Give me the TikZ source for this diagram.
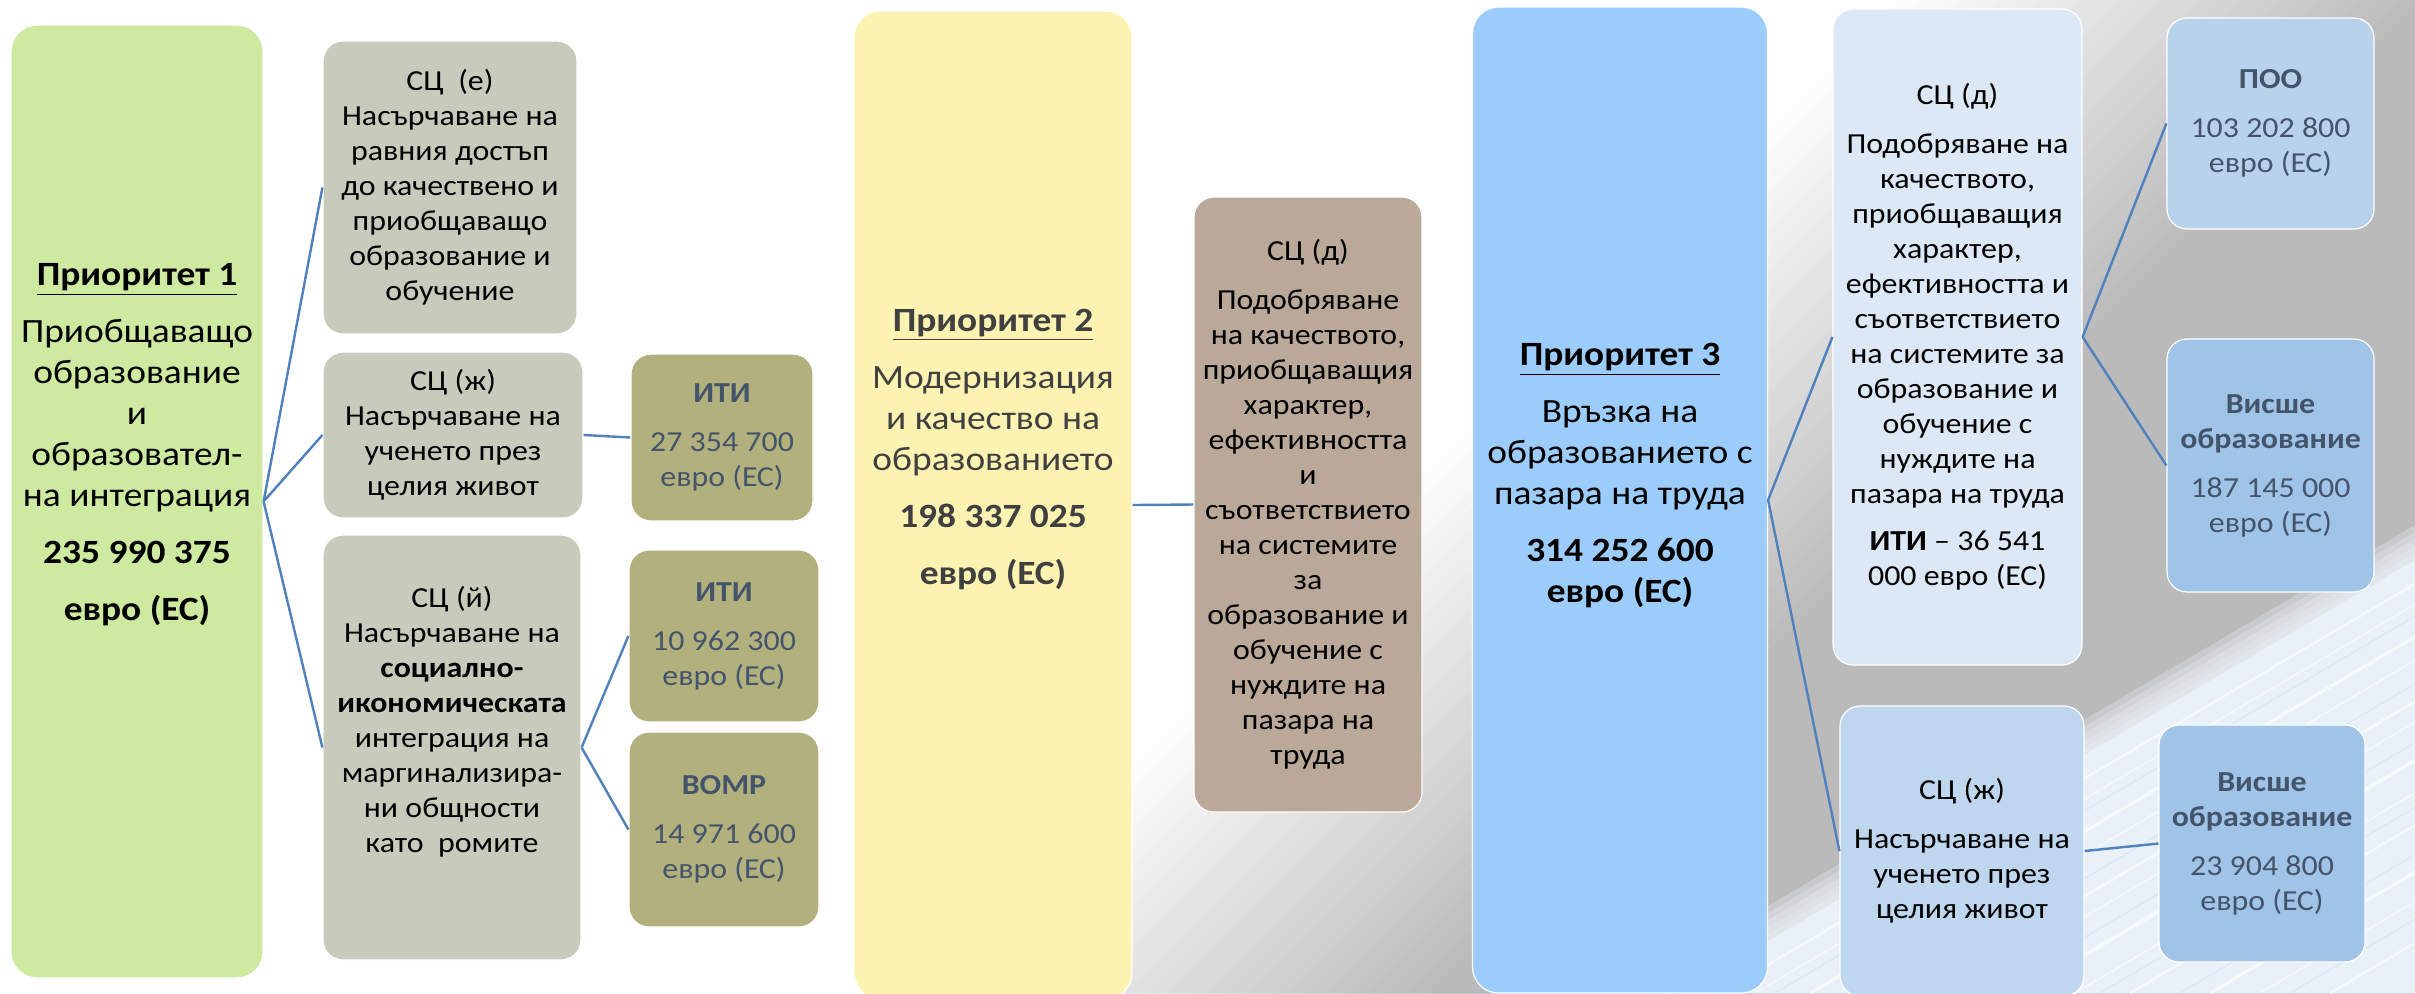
\documentclass[tikz,border=0pt]{standalone}
\usepackage{fontspec}
\setmainfont{Carlito}[FakeStretch=1.1]
\usepackage{tikz}
\usetikzlibrary{calc}

\definecolor{prgreen}{RGB}{206,233,160}
\definecolor{pryellow}{RGB}{252,242,178}
\definecolor{prblue}{RGB}{156,204,250}
\definecolor{scgray}{RGB}{200,203,187}
\definecolor{scbrown}{RGB}{186,168,152}
\definecolor{scpale}{RGB}{220,232,245}
\definecolor{scsky}{RGB}{190,215,238}
\definecolor{olive}{RGB}{178,177,126}
\definecolor{fundblue}{RGB}{184,210,236}
\definecolor{fundmid}{RGB}{160,195,232}
\definecolor{slate}{RGB}{68,84,106}
\definecolor{linkblue}{RGB}{79,129,189}
\definecolor{streak}{RGB}{234,240,247}
\definecolor{streakdark}{RGB}{208,220,235}

\def\prfont{\fontsize{17}{20.5}\selectfont}
\def\bxfont{\fontsize{14.5}{17.5}\selectfont}

\tikzset{
	box/.style={rectangle, rounded corners=10pt, inner sep=0pt, draw=white, line width=0.6pt, align=center, font=\bxfont},
	prbox/.style={box, rounded corners=13pt},
	prtext/.style={align=center, inner sep=0pt, font=\prfont},
	fund/.style={box, text=slate},
	link/.style={draw=linkblue, line width=1.2pt}
}

\begin{document}
\begin{tikzpicture}[x=0.5pt, y=-0.5pt]
		%%%%% START %%%%%
		\useasboundingbox (0, 0) rectangle (2415, 993);
		\fill[white] (0, 0) rectangle (2415, 993);
		
		% background swoosh
		\begin{scope}
			\clip (0, 0) rectangle (2415, 993);
			\foreach \s in {1900, 1920, ..., 2420} {
				\pgfmathsetmacro\g{(\s - 1900)/20 + 1}
				\fill[black!\g] (\s - 993, 993) -- (4000, 993) -- (4000, 0) -- (\s, 0) -- cycle;
			}
			\foreach \k in {0, 1, ..., 5}
				\fill[streak, opacity=0.3] (1680 - 12*\k, 993) -- (2415, 560 - 7*\k) -- (2415, 993) -- cycle;
			\fill[streak] (1680, 993) -- (2415, 560) -- (2415, 993) -- cycle;
			\foreach \d/\w in {40/1.2, 75/0.6, 130/1.6, 170/0.8, 240/1.4, 275/0.6, 340/1.8, 395/0.8, 450/1.2, 530/1.6, 580/0.6, 650/1.2}
				\draw[white, line width=\w pt, opacity=0.6] (1680 + \d, 993) -- ++(900, -530);
			\foreach \d in {95, 210, 310, 420, 500, 610}
				\draw[streakdark, line width=0.6pt, opacity=0.45] (1680 + \d, 993) -- ++(900, -530);
		\end{scope}
		
		% priority 1
		\node[prbox, fill=prgreen, minimum width=126pt, minimum height=476.5pt] (p1) at (137, 501.5) {};
		\node[prtext] (p1t) at (137, 445) {\underline{\textbf{Приоритет 1}}\\[8pt]Приобщаващо\\образование\\и\\образовател-\\на интеграция\\[8pt]\textbf{235 990 375}\\[8pt]\textbf{евро (ЕС)}};
		
		\node[box, fill=scgray, minimum width=127pt, minimum height=146.5pt] (sce) at (450, 187.5) {СЦ\ \ (е)\\Насърчаване на\\равния достъп\\до качествено и\\приобщаващо\\образование и\\обучение};
		\node[box, fill=scgray, minimum width=130pt, minimum height=83pt] (scz) at (453, 435) {СЦ (ж)\\Насърчаване на\\ученето през\\целия живот};
		\node[box, fill=scgray, minimum width=129pt, minimum height=212.5pt] (scj) at (452, 747.5) {};
		\node[align=center, inner sep=0pt, font=\bxfont] (scjt) at (452, 722) {СЦ (й)\\Насърчаване на\\\textbf{социално-}\\\textbf{икономическата}\\интеграция на\\маргинализира-\\ни общности\\като\ \ ромите};
		
		\node[fund, fill=olive, minimum width=91pt, minimum height=83.5pt] (iti1) at (722, 437.5) {\textbf{ИТИ}\\[7pt]27 354 700\\евро (ЕС)};
		\node[fund, fill=olive, minimum width=95pt, minimum height=86pt] (iti2) at (724, 636) {\textbf{ИТИ}\\[7pt]10 962 300\\евро (ЕС)};
		\node[fund, fill=olive, minimum width=95pt, minimum height=97.5pt] (vomr) at (724, 829.5) {\textbf{ВОМР}\\[7pt]14 971 600\\евро (ЕС)};
		
		\draw[link] (p1.east) -- (sce.west);
		\draw[link] (p1.east) -- (scz.west);
		\draw[link] (p1.east) -- (scj.west);
		\draw[link] (scz.east) -- (iti1.west);
		\draw[link] (scj.east) -- (iti2.west);
		\draw[link] (scj.east) -- (vomr.west);
		
		% priority 2
		\node[prbox, fill=pryellow, minimum width=139pt, minimum height=494pt] (p2) at (993, 505) {};
		\node[prtext, text=black!75] (p2t) at (993, 449.5) {\underline{\textbf{Приоритет 2}}\\[8pt]Модернизация\\и качество на\\образованието\\[8pt]\textbf{198 337 025}\\[8pt]\textbf{евро (ЕС)}};
		
		\node[box, fill=scbrown, minimum width=114pt, minimum height=307.5pt] (scd) at (1308, 504.5) {СЦ (д)\\[7pt]Подобряване\\на качеството,\\приобщаващия\\характер,\\ефективността\\и\\съответствието\\на системите\\за\\образование и\\обучение с\\нуждите на\\пазара на\\труда};
		
		\draw[link] (p2.east) -- (scd.west);
		
		% priority 3
		\node[prbox, fill=prblue, minimum width=147.5pt, minimum height=493pt] (p3) at (1620, 500) {};
		\node[prtext] (p3t) at (1620, 476) {\underline{\textbf{Приоритет 3}}\\[8pt]Връзка на\\образованието с\\пазара на труда\\[8pt]\textbf{314 252 600}\\\textbf{евро (ЕС)}};
		
		\node[box, fill=scpale, minimum width=124.5pt, minimum height=328pt] (scd2) at (1957.5, 337) {СЦ (д)\\[7pt]Подобряване на\\качеството,\\приобщаващия\\характер,\\ефективността и\\съответствието\\на системите за\\образование и\\обучение с\\нуждите на\\пазара на труда\\[6pt]\textbf{ИТИ} – 36 541\\000 евро (ЕС)};
		\node[box, fill=scsky, minimum width=122pt, minimum height=145pt] (scz2) at (1962, 851) {СЦ (ж)\\[7pt]Насърчаване на\\ученето през\\целия живот};
		
		\node[fund, fill=fundblue, minimum width=103.5pt, minimum height=105.5pt] (poo) at (2270.5, 123.5) {\textbf{ПОО}\\[7pt]103 202 800\\евро (ЕС)};
		\node[fund, fill=fundmid, minimum width=103.5pt, minimum height=126.5pt] (vis1) at (2270.5, 465.5) {\textbf{Висше}\\\textbf{образование}\\[7pt]187 145 000\\евро (ЕС)};
		\node[fund, fill=fundmid, minimum width=103pt, minimum height=118.5pt] (vis2) at (2262, 843.5) {\textbf{Висше}\\\textbf{образование}\\[7pt]23 904 800\\евро (ЕС)};
		
		\draw[link] (p3.east) -- (scd2.west);
		\draw[link] (p3.east) -- (scz2.west);
		\draw[link] (scd2.east) -- (poo.west);
		\draw[link] (scd2.east) -- (vis1.west);
		\draw[link] (scz2.east) -- (vis2.west);
		%%%%% END %%%%%
\end{tikzpicture}
\end{document}
